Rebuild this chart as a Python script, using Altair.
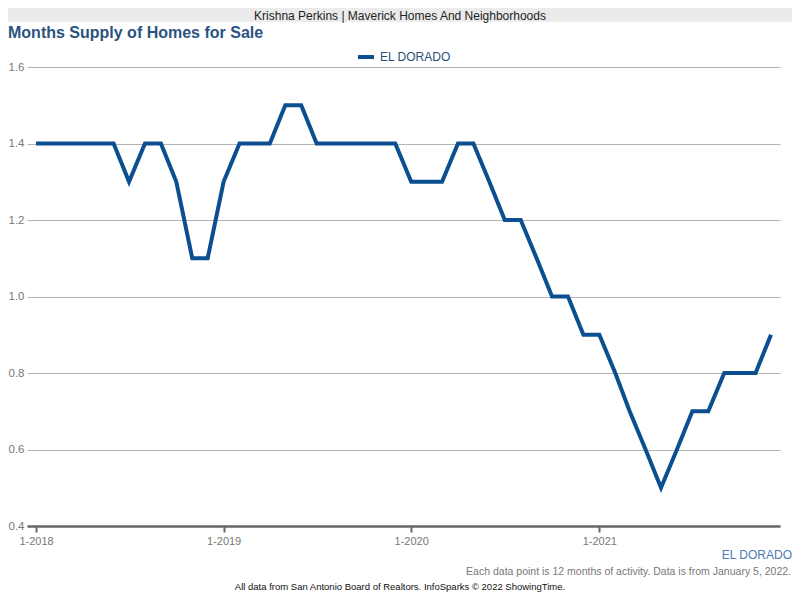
import altair as alt
import pandas as pd

# ---- data -------------------------------------------------------------
months = [
    "2018-01-01", "2018-02-01", "2018-03-01", "2018-04-01", "2018-05-01", "2018-06-01",
    "2018-07-01", "2018-08-01", "2018-09-01", "2018-10-01", "2018-11-01", "2018-12-01",
    "2019-01-01", "2019-02-01", "2019-03-01", "2019-04-01", "2019-05-01", "2019-06-01",
    "2019-07-01", "2019-08-01", "2019-09-01", "2019-10-01", "2019-11-01", "2019-12-01",
    "2020-01-01", "2020-02-01", "2020-03-01", "2020-04-01", "2020-05-01", "2020-06-01",
    "2020-07-01", "2020-08-01", "2020-09-01", "2020-10-01", "2020-11-01", "2020-12-01",
    "2021-01-01", "2021-02-01", "2021-03-01", "2021-04-01", "2021-05-01", "2021-06-01",
    "2021-07-01", "2021-08-01", "2021-09-01", "2021-10-01", "2021-11-01", "2021-12-01",
]
supply = [
    1.4, 1.4, 1.4, 1.4, 1.4, 1.4, 1.3, 1.4, 1.4, 1.3, 1.1, 1.1,
    1.3, 1.4, 1.4, 1.4, 1.5, 1.5, 1.4, 1.4, 1.4, 1.4, 1.4, 1.4,
    1.3, 1.3, 1.3, 1.4, 1.4, 1.3, 1.2, 1.2, 1.1, 1.0, 1.0, 0.9,
    0.9, 0.8, 0.7, 0.6, 0.5, 0.6, 0.7, 0.7, 0.8, 0.8, 0.8, 0.9,
]
series_name = "EL DORADO"
y_ticks = [0.4, 0.6, 0.8, 1.0, 1.2, 1.4, 1.6]
x_tick_years = [2018, 2019, 2020, 2021]

banner_text = "Krishna Perkins | Maverick Homes And Neighborhoods"
title_text = "Months Supply of Homes for Sale"
note_text = "Each data point is 12 months of activity. Data is from January 5, 2022."
footer_text = "All data from San Antonio Board of Realtors. InfoSparks \u00a9 2022 ShowingTime."

FONT = "Liberation Sans"
LINE_COLOR = "#0b4f90"

df = pd.DataFrame({"month": months, "supply": supply, "area": [series_name] * len(months)})
one = alt.Data(values=[{}])

W, H = 753, 459

line = alt.Chart(df).mark_line(strokeWidth=4).encode(
    x=alt.X(
        "month:T",
        title=None,
        scale=alt.Scale(type="utc", padding=9, nice=False),
        axis=alt.Axis(
            values=[alt.DateTime(year=y, month=1, date=1, utc=True) for y in x_tick_years],
            labelExpr="(utcmonth(datum.value)+1) + '-' + utcyear(datum.value)",
            grid=False,
            domainColor="#666666",
            domainWidth=2.5,
            tickColor="#666666",
            tickWidth=2,
            tickSize=6,
            labelPadding=3,
            labelFontSize=11,
            labelColor="#777777",
            labelFont=FONT,
        ),
    ),
    y=alt.Y(
        "supply:Q",
        title=None,
        scale=alt.Scale(domain=[0.4, 1.6], nice=False, zero=False),
        axis=alt.Axis(
            values=y_ticks,
            format=".1f",
            grid=True,
            gridColor="#b4b4b4",
            gridWidth=1,
            domain=False,
            ticks=False,
            labelAlign="left",
            labelPadding=19,
            labelFontSize=11.5,
            labelColor="#777777",
            labelFont=FONT,
        ),
    ),
    color=alt.Color(
        "area:N",
        scale=alt.Scale(range=[LINE_COLOR]),
        legend=alt.Legend(
            title=None,
            orient="none",
            legendX=329,
            legendY=-20,
            symbolType="stroke",
            symbolStrokeWidth=4,
            symbolSize=256,
            labelFontSize=12,
            labelColor="#2a4f77",
            labelFont=FONT,
            labelOffset=4,
        ),
    ),
)

banner = alt.Chart(one).mark_rect(color="#ebebeb").encode(
    x=alt.value(-19), x2=alt.value(W + 12), y=alt.value(-59), y2=alt.value(-45)
)
banner_t = alt.Chart(one).mark_text(
    text=banner_text, font=FONT, fontSize=12, color="#222222", align="center", baseline="middle"
).encode(x=alt.value(373), y=alt.value(-51.5))

title = alt.Chart(one).mark_text(
    text=title_text, font=FONT, fontSize=16, fontWeight="bold", color="#2b5380",
    align="left", baseline="middle"
).encode(x=alt.value(-19), y=alt.value(-34))

area_lbl = alt.Chart(one).mark_text(
    text=series_name, font=FONT, fontSize=12, color="#4a7cb2", align="right", baseline="middle"
).encode(x=alt.value(W + 12), y=alt.value(488))

note = alt.Chart(one).mark_text(
    text=note_text, font=FONT, fontSize=10.5, color="#777777", align="right", baseline="middle"
).encode(x=alt.value(W + 11), y=alt.value(505))

footer = alt.Chart(one).mark_text(
    text=footer_text, font=FONT, fontSize=9.5, color="#111111", align="center", baseline="middle"
).encode(x=alt.value(373), y=alt.value(520))

chart = alt.layer(banner, banner_t, title, line, area_lbl, note, footer).properties(
    width=W,
    height=H,
    padding={"left": 19, "top": 59, "right": 12, "bottom": 66},
    autosize=alt.AutoSizeParams(type="none"),
).configure(font=FONT).configure_view(stroke=None)

chart.save("out.html", embed_options={"renderer": "svg", "actions": False})
